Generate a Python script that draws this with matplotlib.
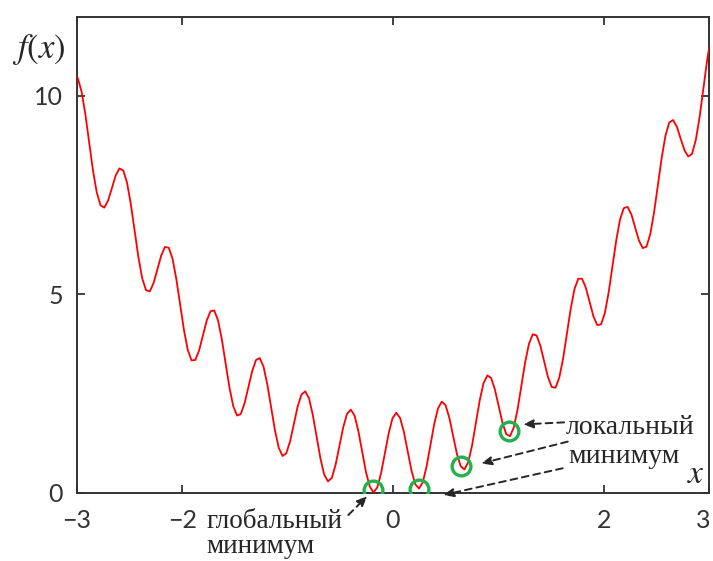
import numpy as np
import matplotlib
matplotlib.use("Agg")
import matplotlib.pyplot as plt
from matplotlib.transforms import ScaledTranslation

plt.rcParams["font.family"] = ["Lato", "DejaVu Sans"]
plt.rcParams["mathtext.fontset"] = "stix"

# f(x) sampled on a regular grid over [-3, 3]
x_vals = np.linspace(-3.029, 3.019, 169)
f_vals = [
    10.53, 10.45, 10.11, 9.54, 8.83, 8.13, 7.57, 7.24, 7.18, 7.36, 7.67, 7.99,
    8.17, 8.12, 7.81, 7.27, 6.60, 5.93, 5.40, 5.10, 5.07, 5.28, 5.62, 5.97,
    6.19, 6.17, 5.89, 5.38, 4.74, 4.10, 3.60, 3.33, 3.34, 3.58, 3.95, 4.33,
    4.57, 4.59, 4.34, 3.86, 3.25, 2.65, 2.18, 1.94, 1.98, 2.25, 2.65, 3.06,
    3.34, 3.39, 3.17, 2.72, 2.14, 1.57, 1.13, 0.92, 0.99, 1.29, 1.73, 2.17,
    2.47, 2.55, 2.37, 1.95, 1.40, 0.86, 0.45, 0.28, 0.37, 0.70, 1.17, 1.64,
    1.98, 2.09, 1.94, 1.55, 1.04, 0.52, 0.15, 0.00, 0.13, 0.49, 0.99, 1.49,
    1.87, 2.01, 1.88, 1.53, 1.04, 0.56, 0.21, 0.10, 0.26, 0.66, 1.19, 1.72,
    2.12, 2.29, 2.20, 1.88, 1.42, 0.97, 0.66, 0.58, 0.77, 1.19, 1.75, 2.32,
    2.75, 2.95, 2.89, 2.60, 2.18, 1.76, 1.47, 1.42, 1.64, 2.10, 2.69, 3.29,
    3.75, 3.99, 3.96, 3.70, 3.30, 2.91, 2.66, 2.64, 2.90, 3.38, 4.01, 4.63,
    5.13, 5.39, 5.39, 5.16, 4.80, 4.44, 4.22, 4.24, 4.52, 5.04, 5.69, 6.35,
    6.88, 7.17, 7.20, 7.01, 6.68, 6.35, 6.16, 6.20, 6.52, 7.07, 7.75, 8.44,
    9.00, 9.33, 9.39, 9.22, 8.92, 8.63, 8.47, 8.54, 8.89, 9.47, 10.19, 10.91,
    11.49,
]

# marked minima: first one global, the rest local
min_x = [-0.19, 0.25, 0.65, 1.10]
min_y = [0.06, 0.09, 0.67, 1.56]

x_ticks = [-3, -2, 0, 2, 3]
x_tick_labels = ["\u22123", "\u22122", "0", "2", "3"]
y_ticks = [0, 5, 10]
y_tick_labels = ["0", "5", "10"]

SERIF = ["Liberation Serif", "DejaVu Serif"]
INK = "#262626"

fig = plt.figure(figsize=(7.13, 5.61), dpi=100)
ax = fig.add_axes([77 / 713, 68.5 / 561, 632 / 713, 476 / 561])

ax.plot(x_vals, f_vals, color="#ff0000", lw=1.3, zorder=3)
ax.plot(min_x, min_y, "o", ms=13.5, mfc="none", mec="#22b14c", mew=2.4, zorder=4)

ax.set_xlim(-3, 3)
ax.set_ylim(0, 12)
ax.set_xticks(x_ticks)
ax.set_xticklabels(x_tick_labels)
ax.set_yticks(y_ticks)
ax.set_yticklabels(y_tick_labels)
ax.tick_params(direction="in", top=True, right=True, length=6, width=1.3,
               color="#333333", labelcolor="#333333", labelsize=18)
ax.tick_params(axis="x", pad=12)
ax.tick_params(axis="y", pad=10)
for s in ax.spines.values():
    s.set_linewidth(1.4)
    s.set_color("#333333")

# keep the last x label inside the canvas
last = ax.get_xticklabels()[-1]
last.set_transform(last.get_transform()
                   + ScaledTranslation(-4 / 72, 0, fig.dpi_scale_trans))

# axis names
fig.text(39 / 713, 1 - 49.5 / 561, r"$f(x)$", fontsize=25, ha="center",
         va="center", color=INK)
ax.text(2.875, 0.455, r"$x$", fontsize=24, ha="center", va="center", color=INK)

# captions
ax.text(1.643, 1.477, "локальный", family=SERIF, fontsize=20, ha="left",
        va="baseline", color=INK)
ax.text(1.662, 0.745, "минимум", family=SERIF, fontsize=20, ha="left",
        va="baseline", color=INK)
ax.text(-1.770, -0.896, "глобальный", family=SERIF, fontsize=19.5, ha="left",
        va="baseline", color=INK, clip_on=False)
ax.text(-1.770, -1.528, "минимум", family=SERIF, fontsize=19.5, ha="left",
        va="baseline", color=INK, clip_on=False)


def pointer(tail, tip):
    ax.annotate("", xy=tip, xytext=tail, annotation_clip=False,
                arrowprops=dict(arrowstyle="-|>,head_length=0.6,head_width=0.25",
                                lw=1.4, ls=(0, (3.5, 2.5)), color=INK,
                                shrinkA=0, shrinkB=0), zorder=5)


pointer((1.624, 1.768), (1.235, 1.717))
pointer((1.659, 1.283), (0.837, 0.732))
pointer((1.611, 0.611), (0.477, -0.063))
pointer((-0.424, -0.568), (-0.244, -0.088))

fig.savefig("out.png", dpi=100)
